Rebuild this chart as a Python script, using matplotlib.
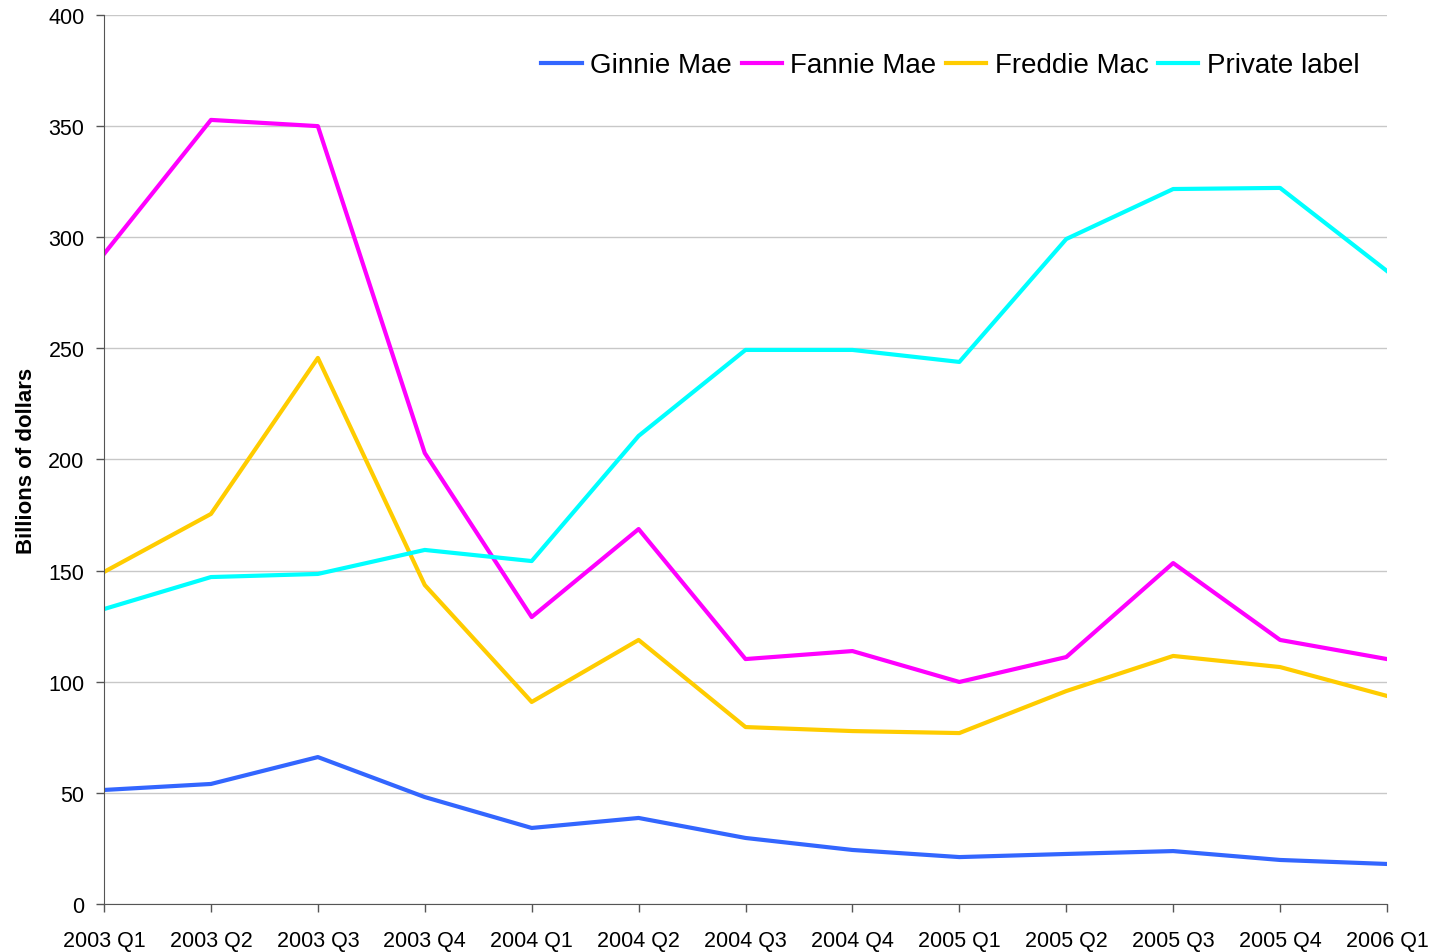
import matplotlib.pyplot as plt
import numpy as np

plt.rcParams['font.family'] = ['Liberation Sans', 'DejaVu Sans']

# Data (billions of dollars)
quarters = ['2003 Q1', '2003 Q2', '2003 Q3', '2003 Q4', '2004 Q1', '2004 Q2', '2004 Q3',
            '2004 Q4', '2005 Q1', '2005 Q2', '2005 Q3', '2005 Q4', '2006 Q1']
ginnie = [51.3, 54.0, 66.1, 48.1, 34.2, 38.7, 29.7, 24.3, 21.1, 22.5, 23.8, 19.8, 18.0]
fannie = [292.5, 352.8, 350.0, 202.9, 129.1, 168.7, 110.2, 113.8, 99.9, 111.1, 153.4, 118.8, 110.2]
freddie = [149.4, 175.5, 245.7, 143.5, 90.9, 118.8, 79.6, 77.8, 76.9, 95.8, 111.6, 106.6, 93.6]
private = [132.7, 147.1, 148.5, 159.3, 154.3, 210.6, 249.3, 249.3, 243.9, 299.2, 321.7, 322.2, 284.8]

x = np.arange(len(quarters))

fig = plt.figure(figsize=(14.37, 9.53), dpi=100)
ax = fig.add_axes([0.0724, 0.0504, 0.8928, 0.9328])

ax.plot(x, ginnie, color='#3366FF', lw=3, label='Ginnie Mae')
ax.plot(x, fannie, color='#FF00FF', lw=3, label='Fannie Mae')
ax.plot(x, freddie, color='#FFCC00', lw=3, label='Freddie Mac')
ax.plot(x, private, color='#00FFFF', lw=3, label='Private label')

ax.set_xlim(0, len(quarters) - 1)
ax.set_ylim(0, 400)
ax.set_yticks(np.arange(0, 401, 50))
ax.set_xticks(x)
ax.set_xticklabels(quarters)
ax.tick_params(axis='both', labelsize=15.5, direction='out', length=6, width=1, color='#555555')
ax.tick_params(axis='x', pad=13)
ax.tick_params(axis='y', pad=8)

ax.yaxis.grid(True, color='#C8C8C8', lw=1)
ax.set_axisbelow(True)
for s in ['top', 'right']:
    ax.spines[s].set_visible(False)
ax.spines['left'].set_color('#555555')
ax.spines['bottom'].set_color('#555555')

ax.set_ylabel('Billions of dollars', fontsize=16, fontweight='bold', labelpad=8)

ax.legend(loc='upper right', ncol=4, frameon=False, fontsize=20, handlelength=1.45,
          handletextpad=0.3, columnspacing=0.35, bbox_to_anchor=(0.998, 0.986))

fig.savefig('out.png', dpi=100)
